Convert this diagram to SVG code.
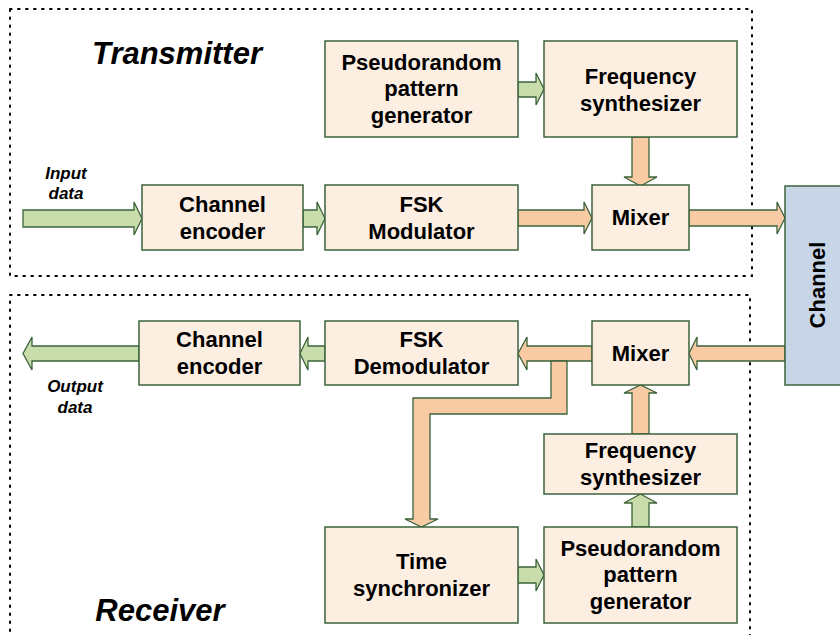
<svg xmlns="http://www.w3.org/2000/svg" width="840" height="635" viewBox="0 0 840 635">
<style>
.frame{fill:none;stroke:#000;stroke-width:2;stroke-dasharray:1.6 6.4;stroke-linecap:round}
.box{fill:#fdeee2;stroke:#3b633b;stroke-width:1.5}
.chan{fill:#c8d5e6;stroke:#3b633b;stroke-width:1.5}
.og{fill:#f8cba5;stroke:#3b633b;stroke-width:1.3;stroke-linejoin:miter}
.gr{fill:#c9dcab;stroke:#3b633b;stroke-width:1.3;stroke-linejoin:miter}
.t{font-family:"Liberation Sans",Arial,sans-serif;font-weight:bold;font-size:22px;fill:#000;text-anchor:middle}
.title{font-family:"Liberation Sans",Arial,sans-serif;font-weight:bold;font-style:italic;font-size:31px;fill:#000;text-anchor:middle}
.lbl{font-family:"Liberation Sans",Arial,sans-serif;font-weight:bold;font-style:italic;font-size:17px;fill:#000;text-anchor:middle}
</style>
<rect width="840" height="635" fill="#fff"/>
<g id="frames">
<rect class="frame" x="10" y="9" width="742" height="267"/>
<rect class="frame" x="10" y="295" width="740" height="360"/>
</g>
<g id="labels">
<text class="title" x="177" y="64">Transmitter</text>
<text class="title" x="160" y="621">Receiver</text>
<text class="lbl" x="66" y="179">Input</text>
<text class="lbl" x="66" y="199">data</text>
<text class="lbl" x="75" y="392">Output</text>
<text class="lbl" x="75" y="413">data</text>
</g>
<g id="connectors">
<polygon class="gr" points="23,210 134,210 134,202 142,218.5 134,235 134,227 23,227"/>
<polygon class="gr" points="303,210 317,210 317,202 325,218.5 317,235 317,227 303,227"/>
<polygon class="og" points="518,210 584,210 584,202 592,218 584,234 584,226 518,226"/>
<polygon class="og" points="689,210 777,210 777,202 785,218 777,234 777,226 689,226"/>
<polygon class="gr" points="518,82 536,82 536,73 544,89 536,105 536,97 518,97"/>
<polygon class="og" points="632,137 649,137 649,177 657,177 640.5,186 624,177 632,177"/>
<polygon class="og" points="785,346 697,346 697,337 689,353.5 697,370 697,361 785,361"/>
<polygon class="og" points="592,346 527,346 527,337 518,353.5 527,370 527,361 592,361"/>
<polygon class="gr" points="325,346 308,346 308,337 300,353.5 308,370 308,361 325,361"/>
<polygon class="gr" points="139,346 32,346 32,337 23,353.5 32,370 32,361 139,361"/>
<polygon class="og" points="551,361 567,361 567,414 430,414 430,519 438,519 421.5,527 405,519 413,519 413,398 551,398"/>
<polygon class="og" points="632,434 632,393 624,393 640.5,385 657,393 649,393 649,434"/>
<polygon class="gr" points="632,527 632,503 624,503 640.5,494 657,503 649,503 649,527"/>
<polygon class="gr" points="518,567 536,567 536,559 544,575 536,591 536,583 518,583"/>
</g>
<g id="tx-prng">
<rect class="box" x="325" y="41" width="193" height="96"/>
<text class="t" x="421.5" y="69.5">Pseudorandom</text>
<text class="t" x="421.5" y="96">pattern</text>
<text class="t" x="421.5" y="122.5">generator</text>
</g>
<g id="tx-freq">
<rect class="box" x="544" y="41" width="193" height="96"/>
<text class="t" x="640.5" y="83.5">Frequency</text>
<text class="t" x="640.5" y="110.5">synthesizer</text>
</g>
<g id="tx-encoder">
<rect class="box" x="142" y="185" width="161" height="65"/>
<text class="t" x="222.5" y="212">Channel</text>
<text class="t" x="222.5" y="239">encoder</text>
</g>
<g id="tx-fsk">
<rect class="box" x="325" y="185" width="193" height="65"/>
<text class="t" x="421.5" y="212">FSK</text>
<text class="t" x="421.5" y="239">Modulator</text>
</g>
<g id="tx-mixer">
<rect class="box" x="592" y="185" width="97" height="65"/>
<text class="t" x="640.5" y="225">Mixer</text>
</g>
<g id="channel">
<rect class="chan" x="785" y="186" width="58" height="199"/>
<text class="t" transform="translate(825,285) rotate(-90)" x="0" y="0">Channel</text>
</g>
<g id="rx-encoder">
<rect class="box" x="139" y="321" width="161" height="64"/>
<text class="t" x="219.5" y="346.5">Channel</text>
<text class="t" x="219.5" y="373.5">encoder</text>
</g>
<g id="rx-fsk">
<rect class="box" x="325" y="321" width="193" height="64"/>
<text class="t" x="421.5" y="346.5">FSK</text>
<text class="t" x="421.5" y="373.5">Demodulator</text>
</g>
<g id="rx-mixer">
<rect class="box" x="592" y="321" width="97" height="64"/>
<text class="t" x="640.5" y="360.5">Mixer</text>
</g>
<g id="rx-freq">
<rect class="box" x="544" y="434" width="193" height="60"/>
<text class="t" x="640.5" y="457.5">Frequency</text>
<text class="t" x="640.5" y="484.5">synthesizer</text>
</g>
<g id="rx-time">
<rect class="box" x="325" y="527" width="193" height="96"/>
<text class="t" x="421.5" y="568.5">Time</text>
<text class="t" x="421.5" y="595.5">synchronizer</text>
</g>
<g id="rx-prng">
<rect class="box" x="544" y="527" width="193" height="96"/>
<text class="t" x="640.5" y="555.5">Pseudorandom</text>
<text class="t" x="640.5" y="582">pattern</text>
<text class="t" x="640.5" y="608.5">generator</text>
</g>
</svg>
